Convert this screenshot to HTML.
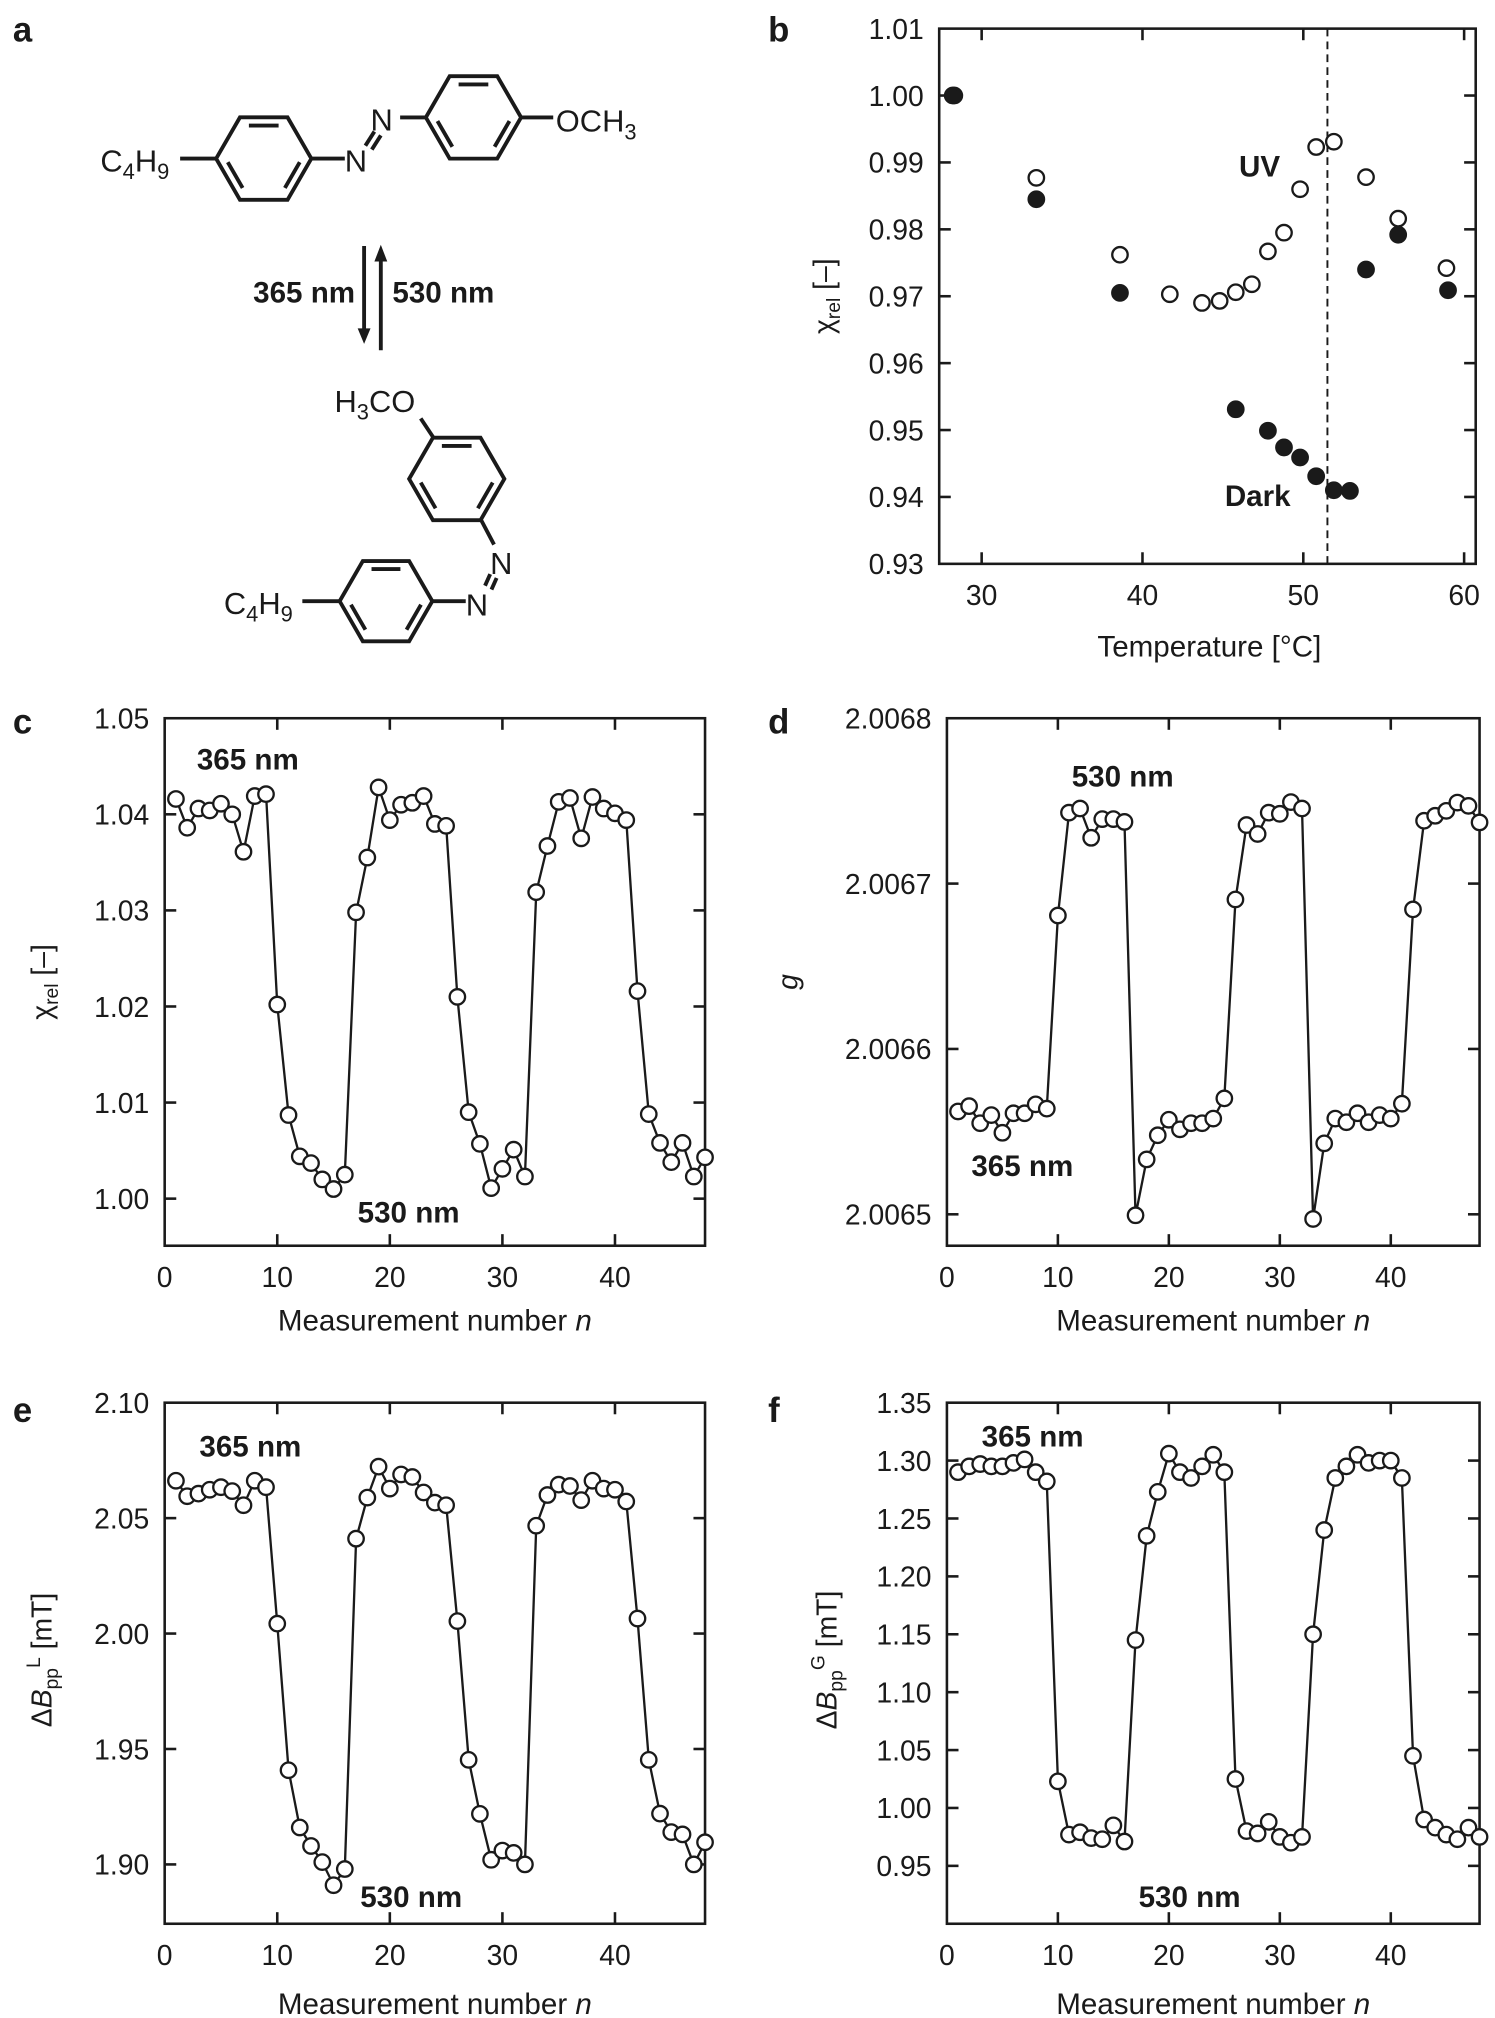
<!DOCTYPE html>
<html><head><meta charset="utf-8"><style>
html,body{margin:0;padding:0;background:#fff;}
svg{display:block;font-family:"Liberation Sans",Arial,sans-serif;}
</style></head><body>
<svg id="fig" width="1495" height="2018" viewBox="0 0 1162 1568" xmlns="http://www.w3.org/2000/svg">
<g id="chem" stroke="#1a1a1a" stroke-width="3" fill="none"></g>
<g id="plots"></g>
</svg>
<script>
// ---------- data ----------
const nVals = Array.from({length:48},(_,i)=>i+1);
const chiC = [1.0416,1.0386,1.0406,1.0404,1.0411,1.0400,1.0361,1.0419,1.0421,1.0202,1.0087,1.0044,1.0037,1.0020,1.0010,1.0025,1.0298,1.0355,1.0428,1.0394,1.0410,1.0412,1.0419,1.0390,1.0388,1.0210,1.0090,1.0057,1.0011,1.0031,1.0051,1.0023,1.0319,1.0367,1.0413,1.0417,1.0375,1.0418,1.0406,1.0401,1.0394,1.0216,1.0088,1.0058,1.0038,1.0058,1.0023,1.0043];
const gOffsetD = [0.622,0.654,0.551,0.600,0.493,0.611,0.611,0.665,0.639,1.807,2.429,2.454,2.277,2.390,2.390,2.373,-0.006,0.332,0.478,0.572,0.514,0.551,0.551,0.579,0.701,1.904,2.354,2.300,2.429,2.422,2.493,2.454,-0.028,0.429,0.579,0.557,0.611,0.557,0.600,0.579,0.669,1.844,2.38,2.41,2.44,2.49,2.47,2.37];
const bLE = [2.0662,2.0595,2.0606,2.0623,2.0634,2.0617,2.0556,2.0662,2.0634,2.0043,1.9408,1.9160,1.9080,1.9010,1.8910,1.8980,2.0411,2.0589,2.0723,2.0628,2.0689,2.0678,2.0611,2.0567,2.0556,2.0054,1.9453,1.9219,1.9020,1.9060,1.9050,1.9000,2.0467,2.0600,2.0645,2.0639,2.0578,2.0662,2.0628,2.0623,2.0572,2.0065,1.9453,1.9220,1.9140,1.9130,1.9000,1.9096];
const bGF = [1.290,1.295,1.297,1.295,1.295,1.298,1.301,1.290,1.282,1.023,0.977,0.979,0.974,0.973,0.985,0.971,1.145,1.235,1.273,1.306,1.290,1.285,1.295,1.305,1.290,1.025,0.980,0.978,0.988,0.975,0.970,0.975,1.150,1.240,1.285,1.295,1.305,1.298,1.300,1.300,1.285,1.045,0.990,0.983,0.977,0.973,0.983,0.975];
const tempUV = [28.3,33.4,38.6,41.7,43.7,44.8,45.8,46.8,47.8,48.8,49.8,50.8,51.9,53.9,55.9,58.9];
const chiUV = [1.000,0.9877,0.9762,0.9703,0.9690,0.9693,0.9706,0.9718,0.9767,0.9795,0.9860,0.9923,0.9931,0.9878,0.9816,0.9742];
const tempDark = [28.2,33.4,38.6,45.8,47.8,48.8,49.8,50.8,51.9,52.9,53.9,55.9,59.0];
const chiDark = [1.000,0.9845,0.9705,0.9531,0.9499,0.9474,0.9459,0.9431,0.9410,0.9409,0.9740,0.9792,0.9709];
const ticksN = [0,10,20,30,40];
const ticksC = [1.00,1.01,1.02,1.03,1.04,1.05];
const ticksD = [2.0065,2.0066,2.0067,2.0068];
const ticksE = [1.90,1.95,2.00,2.05,2.10];
const ticksF = [0.95,1.00,1.05,1.10,1.15,1.20,1.25,1.30,1.35];
const ticksBx = [30,40,50,60];
const ticksBy = [0.93,0.94,0.95,0.96,0.97,0.98,0.99,1.00,1.01];

const NS="http://www.w3.org/2000/svg";
const plots=document.getElementById('plots');
function mk(tag,attrs,parent){const e=document.createElementNS(NS,tag);for(const k in attrs)e.setAttribute(k,attrs[k]);(parent||plots).appendChild(e);return e;}
function txt(s,x,y,opts,parent){const e=mk('text',Object.assign({x:x,y:y,'font-size':22,fill:'#1a1a1a'},opts||{}),parent);e.textContent=s;return e;}

function panel(name,box,xr,yr,xt,yt,fmtY){
  const g=mk('g',{});
  
  
  const sx=v=>box.x0+(v-xr[0])/(xr[1]-xr[0])*(box.x1-box.x0);
  const sy=v=>box.y1-(v-yr[0])/(yr[1]-yr[0])*(box.y1-box.y0);
  const r=mk('rect',{x:box.x0,y:box.y0,width:box.x1-box.x0,height:box.y1-box.y0,fill:'none',stroke:'#1a1a1a','stroke-width':2},g);
  
  
  xt.forEach(v=>{const x=sx(v);
    if(x>box.x0+1&&x<box.x1-1){mk('line',{x1:x,x2:x,y1:box.y1,y2:box.y1-9,stroke:'#1a1a1a','stroke-width':2},g);
    mk('line',{x1:x,x2:x,y1:box.y0,y2:box.y0+9,stroke:'#1a1a1a','stroke-width':2},g);}
    const t=txt(String(v),x,box.y1+32,{'text-anchor':'middle'},g);
    
    });
  yt.forEach(v=>{const y=sy(v);
    if(y>box.y0+1&&y<box.y1-1){mk('line',{x1:box.x0,x2:box.x0+9,y1:y,y2:y,stroke:'#1a1a1a','stroke-width':2},g);
    mk('line',{x1:box.x1,x2:box.x1-9,y1:y,y2:y,stroke:'#1a1a1a','stroke-width':2},g);}
    const t=txt(fmtY(v),box.x0-12,y+8,{'text-anchor':'end'},g);
    
    });
  return {g,sx,sy};
}
function series(p,xs,ys,filled,line,name){
  if(line){const d=xs.map((x,i)=>(i?'L':'M')+p.sx(x).toFixed(1)+','+p.sy(ys[i]).toFixed(1)).join('');
    const l=mk('path',{d:d,fill:'none',stroke:'#1a1a1a','stroke-width':1.8},p.g);
    
    }
  xs.forEach((x,i)=>{const c=mk('circle',{cx:p.sx(x),cy:p.sy(ys[i]),r:6,fill:filled?'#1a1a1a':'#fff',stroke:'#1a1a1a','stroke-width':1.8},p.g);
    
    });
}
function bold(s,x,y,name,anchor){const t=txt(s,x,y,{'font-weight':'bold','font-size':23,'text-anchor':anchor||'start'});return t;}
function ylab(html,x,y,name){const t=mk('text',{x:0,y:0,'font-size':22,fill:'#1a1a1a','text-anchor':'middle',transform:`translate(${x},${y}) rotate(-90)`});t.innerHTML=html;return t;}
function xlab(html,x,y,name){const t=mk('text',{x:x,y:y,'font-size':23,fill:'#1a1a1a','text-anchor':'middle'});t.innerHTML=html;return t;}

// panel letters
[['a',10,32],['b',597,32],['c',10,570],['d',597,570],['e',10,1105],['f',597,1105]].forEach(a=>{
  const t=txt(a[0],a[1],a[2],{'font-weight':'bold','font-size':27});
  
  });

// panel b
const pb=panel('panel-b-temperature',{x0:730,x1:1147,y0:22,y1:438},[27.36,60.72],[0.93,1.01],ticksBx,ticksBy,v=>v.toFixed(2));
const dl=mk('line',{x1:pb.sx(51.5),x2:pb.sx(51.5),y1:22,y2:438,stroke:'#1a1a1a','stroke-width':1.5,'stroke-dasharray':'6,4'},pb.g);


series(pb,tempUV,chiUV,false,false,'uv');
series(pb,tempDark,chiDark,true,false,'dark');
bold('UV',963,137,'uv-label');
bold('Dark',952,393,'dark-label');
ylab('χ<tspan font-size="15" dy="5">rel</tspan><tspan dy="-5"> [–]</tspan>',648,230,'y-axis-title-b');
xlab('Temperature [°C]',940,510,'x-axis-title-b');

// panel c
const pc=panel('panel-c-chi',{x0:128,x1:548,y0:558,y1:968},[0,48],[0.9951,1.05],ticksN,ticksC,v=>v.toFixed(2));
series(pc,nVals,chiC,false,true,'chi');
bold('365 nm',153,598,'label-365nm-c');
bold('530 nm',278,950,'label-530nm-c');
ylab('χ<tspan font-size="15" dy="5">rel</tspan><tspan dy="-5"> [–]</tspan>',40,763,'y-axis-title-c');
xlab('Measurement number <tspan font-style="italic">n</tspan>',338,1034,'x-axis-title-c');

// panel d
const gD=gOffsetD.map(v=>2.0065+v*1e-4);
const pd=panel('panel-d-g',{x0:736,x1:1150,y0:558,y1:968},[0,48],[2.006481,2.0068],ticksN,ticksD,v=>v.toFixed(4));
series(pd,nVals,gD,false,true,'g');
bold('530 nm',833,611,'label-530nm-d');
bold('365 nm',755,914,'label-365nm-d');
ylab('<tspan font-style="italic">g</tspan>',620,763,'y-axis-title-d');
xlab('Measurement number <tspan font-style="italic">n</tspan>',943,1034,'x-axis-title-d');

// panel e
const pe=panel('panel-e-lorentz',{x0:128,x1:548,y0:1090,y1:1495},[0,48],[1.8743,2.10],ticksN,ticksE,v=>v.toFixed(2));
series(pe,nVals,bLE,false,true,'bpp-l');
bold('365 nm',155,1132,'label-365nm-e');
bold('530 nm',280,1482,'label-530nm-e');
ylab('Δ<tspan font-style="italic">B</tspan><tspan font-size="15" dy="5">pp</tspan><tspan font-size="15" dy="-14">L</tspan><tspan dy="9"> [mT]</tspan>',40,1290,'y-axis-title-e');
xlab('Measurement number <tspan font-style="italic">n</tspan>',338,1565,'x-axis-title-e');

// panel f
const pf=panel('panel-f-gauss',{x0:736,x1:1150,y0:1090,y1:1495},[0,48],[0.9,1.35],ticksN,ticksF,v=>v.toFixed(2));
series(pf,nVals,bGF,false,true,'bpp-g');
bold('365 nm',763,1124,'label-365nm-f');
bold('530 nm',885,1482,'label-530nm-f');
ylab('Δ<tspan font-style="italic">B</tspan><tspan font-size="15" dy="5">pp</tspan><tspan font-size="15" dy="-14">G</tspan><tspan dy="9"> [mT]</tspan>',650,1290,'y-axis-title-f');
xlab('Measurement number <tspan font-style="italic">n</tspan>',943,1565,'x-axis-title-f');

// ---------- chemistry ----------
const chem=document.getElementById('chem');
function L(x1,y1,x2,y2){mk('line',{x1,y1,x2,y2},chem);}
function ring(cx,cy,r){
  const v=[];for(let i=0;i<6;i++){const a=Math.PI/3*i;v.push([cx+r*Math.cos(a),cy+r*Math.sin(a)]);}
  mk('polygon',{points:v.map(p=>p.join(',')).join(' ')},chem);
  // inner lines: top edge (4-5), lower-left (2-3), lower-right (0-1)
  [[4,5],[2,3],[0,1]].forEach(([i,j])=>{
    const ax=v[i][0]+(cx-v[i][0])*0.2, ay=v[i][1]+(cy-v[i][1])*0.2, bx=v[j][0]+(cx-v[j][0])*0.2, by=v[j][1]+(cy-v[j][1])*0.2;
    const mx=(ax+bx)/2,my=(ay+by)/2;
    L(mx+(ax-mx)*0.78,my+(ay-my)*0.78,mx+(bx-mx)*0.78,my+(by-my)*0.78);});
}
function ctxt(html,x,y,anchor){const t=mk('text',{x,y,'font-size':24,fill:'#1a1a1a',stroke:'none','text-anchor':anchor||'start'},chem);t.innerHTML=html;return t;}
ring(205,123,37); ring(368,91,37);
L(140,123,168,123); L(242,123,268,123); L(311,91,331,91); L(405,91,430,91);
L(284,113,291,102); L(289,116,296,105);
ctxt('C<tspan font-size="17" dy="6">4</tspan><tspan dy="-6">H</tspan><tspan font-size="17" dy="6">9</tspan>',78,133);
ctxt('N',268,133); ctxt('N',288,101);
ctxt('OCH<tspan font-size="17" dy="6">3</tspan>',432,102);
// arrows
L(283,191,283,258); L(296,272,296,200);
mk('polygon',{points:'278,255 288,255 283,267',fill:'#1a1a1a',stroke:'none'},chem);
mk('polygon',{points:'291,203 301,203 296,190',fill:'#1a1a1a',stroke:'none'},chem);
const t1=ctxt('365 nm',276,235,'end');t1.setAttribute('font-weight','bold');t1.setAttribute('font-size','23');
const t2=ctxt('530 nm',305,235);t2.setAttribute('font-weight','bold');t2.setAttribute('font-size','23');
// cis isomer
ring(355,372,37); ring(300,467,36);
L(327,325,337,340); L(374,404,384,423);
L(381,446,377,455); L(386,449,382,458);
L(336,467,362,467); L(235,467,264,467);
ctxt('H<tspan font-size="17" dy="6">3</tspan><tspan dy="-6">CO</tspan>',260,320);
ctxt('N',381,446); ctxt('N',362,478);
ctxt('C<tspan font-size="17" dy="6">4</tspan><tspan dy="-6">H</tspan><tspan font-size="17" dy="6">9</tspan>',174,477);
</script>
</body></html>
